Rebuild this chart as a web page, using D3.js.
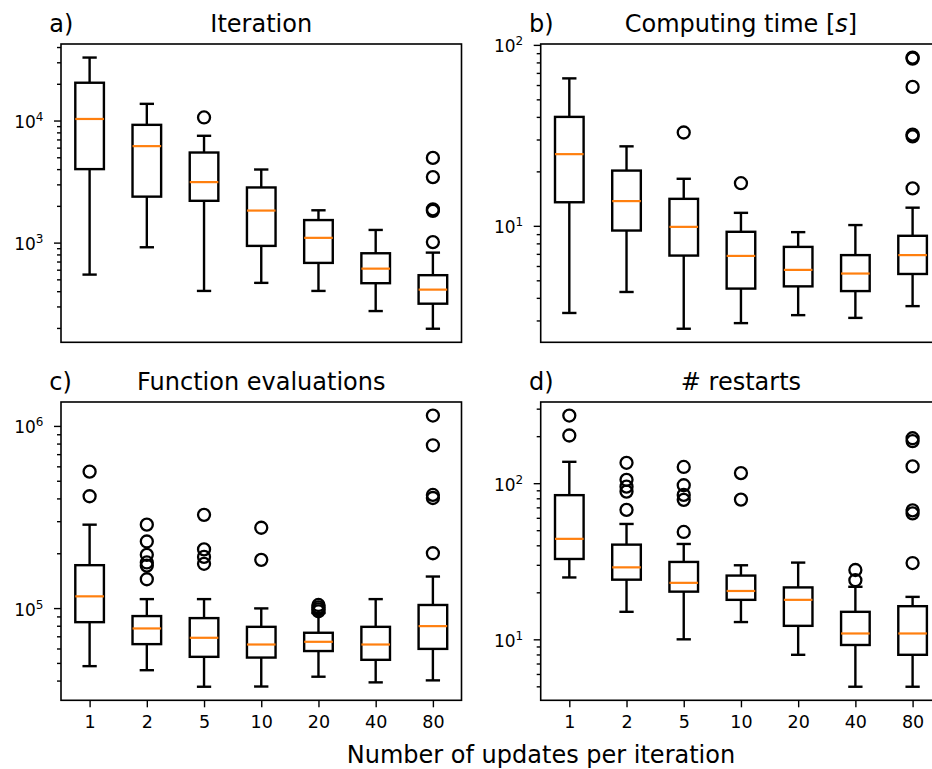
<!DOCTYPE html>
<html lang="en">
<head>
    <meta charset="UTF-8">
    <title>Box plots</title>
    <script src="https://d3js.org/d3.v7.min.js"></script>
    <style>
        body { margin: 0; background: #fff; }
        text { font-family: "DejaVu Sans", sans-serif; fill: #000; }
        .box, .whisker, .cap { fill: none; stroke: #000; stroke-width: 2.4; }
        .median { stroke: #ff7f0e; stroke-width: 2.2; }
        .flier { fill: none; stroke: #000; stroke-width: 2.3; }
        .tick line { stroke: #000; stroke-width: 1.4; }
    </style>
</head>
<body>
    <svg width="932" height="769"></svg>
    <script>
        // categories on the x axis
        const categories = ["1", "2", "5", "10", "20", "40", "80"];

        // [whisker low, q1, median, q3, whisker high] per category
        const iterBoxes = [
            [547, 4000, 10300, 20400, 32800],
            [916, 2380, 6170, 9220, 13700],
            [402, 2200, 3130, 5470, 7500],
            [468, 940, 1830, 2830, 3970],
            [402, 682, 1094, 1530, 1840],
            [275, 465, 612, 818, 1270],
            [197, 316, 412, 541, 828]
        ];
        const iterFliers = [[], [], [10600], [], [], [], [4940, 3440, 1870, 1820, 1010]];

        const timeBoxes = [
            [3.30, 13.5, 24.9, 40, 65.3],
            [4.31, 9.42, 13.7, 20.2, 27.5],
            [2.70, 6.85, 9.87, 14.1, 18.2],
            [2.90, 4.50, 6.82, 9.27, 11.8],
            [3.21, 4.63, 5.71, 7.65, 9.23],
            [3.10, 4.36, 5.45, 6.89, 10.1],
            [3.60, 5.42, 6.89, 8.81, 12.6]
        ];
        const timeFliers = [[], [], [32.8], [17.2], [], [], [85.1, 84, 58.6, 31.9, 31.2, 16.1]];

        const fevalBoxes = [
            [48000, 83700, 116000, 172000, 287000],
            [45600, 63400, 77300, 90400, 112000],
            [37000, 54000, 68700, 88100, 112000],
            [37100, 53500, 63100, 78900, 99600],
            [42000, 58100, 65300, 73200, 94000],
            [39100, 52000, 63100, 78900, 112000],
            [40100, 59700, 79600, 104000, 149000]
        ];
        const fevalFliers = [
            [561000, 411000],
            [287000, 232000, 196000, 178000, 171000, 144000],
            [325000, 210000, 191000, 175000],
            [276000, 184000],
            [104000, 101000, 98500, 96000],
            [],
            [1140000, 783000, 418000, 402000, 200000]
        ];

        const restartBoxes = [
            [24.9, 32.7, 44, 83.8, 137],
            [15, 24.1, 28.9, 40.4, 54.8],
            [10, 20.2, 23, 31.3, 40.8],
            [12.9, 17.9, 20.4, 25.6, 29.8],
            [7.96, 12.2, 17.9, 21.5, 31],
            [4.97, 9.2, 10.9, 15, 21.7],
            [4.97, 7.96, 10.9, 16.3, 18.7]
        ];
        const restartFliers = [[271, 202], [135, 105, 95, 88.3, 67.4], [127, 97, 84.1, 78.2, 48.7],
            [116, 78.5], [], [27.8, 23.9], [194, 186, 128, 67, 64, 30.8]];

        const panels = [
            { tag: "a)", title: "Iteration", boxes: iterBoxes, fliers: iterFliers, left: 61, top: 44, xlabels: false },
            { tag: "b)", title: "Computing time [s]", boxes: timeBoxes, fliers: timeFliers, left: 540.7, top: 44, xlabels: false },
            { tag: "c)", title: "Function evaluations", boxes: fevalBoxes, fliers: fevalFliers, left: 61, top: 402, xlabels: true },
            { tag: "d)", title: "# restarts", boxes: restartBoxes, fliers: restartFliers, left: 540.7, top: 402, xlabels: true }
        ];

        const svg = d3.select("svg"),
              pw = 400.5, ph = 298.3;

        svg.append("rect").attr("width", 932).attr("height", 769).attr("fill", "#fff");

        panels.forEach(function(p) {
            const g = svg.append("g").attr("transform", "translate(" + p.left + "," + p.top + ")");

            const x = d3.scalePoint().domain(categories).range([0, pw]).padding(0.5);
            const step = x.step();

            // log domain with 5% margin like matplotlib autoscale
            const all = d3.merge(p.boxes.concat(p.fliers));
            const lo = Math.log10(d3.min(all)), hi = Math.log10(d3.max(all)), m = (hi - lo) * 0.05;
            const y = d3.scaleLog().domain([Math.pow(10, lo - m), Math.pow(10, hi + m)]).range([ph, 0]);

            // major + minor ticks
            const majors = [], minors = [];
            for (let e = Math.floor(lo - m); e <= Math.ceil(hi + m); e++) {
                for (let k = 1; k < 10; k++) {
                    const v = k * Math.pow(10, e);
                    if (v < y.domain()[0] || v > y.domain()[1]) continue;
                    (k === 1 ? majors : minors).push(v);
                }
            }
            const axMinor = g.append("g").call(d3.axisLeft(y).tickValues(minors).tickSize(4).tickFormat(""));
            axMinor.select(".domain").remove();
            const axMajor = g.append("g").call(d3.axisLeft(y).tickValues(majors).tickSize(7).tickFormat(""));
            axMajor.select(".domain").remove();

            majors.forEach(function(v) {
                const t = g.append("text")
                    .attr("x", -17.5)
                    .attr("y", y(v) + 7.5)
                    .attr("text-anchor", "end")
                    .style("font-size", "17px");
                t.append("tspan").text("10");
                t.append("tspan").attr("dy", -7).style("font-size", "12px").text(Math.round(Math.log10(v)));
            });

            if (p.xlabels) {
                const ax = g.append("g").attr("transform", "translate(0," + ph + ")")
                    .call(d3.axisBottom(x).tickSize(7).tickPadding(8));
                ax.select(".domain").remove();
                ax.selectAll("text").style("font-size", "17.5px").style("font-family", "DejaVu Sans");
            }

            const boxes = g.selectAll(".bp").data(p.boxes).enter().append("g")
                .attr("transform", function(d, i) { return "translate(" + x(categories[i]) + ",0)"; });

            const bw = step * 0.5, cw = step * 0.25;
            boxes.append("line").attr("class", "whisker")
                .attr("y1", function(d) { return y(d[0]); }).attr("y2", function(d) { return y(d[1]); });
            boxes.append("line").attr("class", "whisker")
                .attr("y1", function(d) { return y(d[3]); }).attr("y2", function(d) { return y(d[4]); });
            boxes.append("line").attr("class", "cap")
                .attr("x1", -cw / 2).attr("x2", cw / 2)
                .attr("y1", function(d) { return y(d[0]); }).attr("y2", function(d) { return y(d[0]); });
            boxes.append("line").attr("class", "cap")
                .attr("x1", -cw / 2).attr("x2", cw / 2)
                .attr("y1", function(d) { return y(d[4]); }).attr("y2", function(d) { return y(d[4]); });
            boxes.append("rect").attr("class", "box")
                .attr("x", -bw / 2).attr("width", bw)
                .attr("y", function(d) { return y(d[3]); })
                .attr("height", function(d) { return y(d[1]) - y(d[3]); });
            boxes.append("line").attr("class", "median")
                .attr("x1", -bw / 2).attr("x2", bw / 2)
                .attr("y1", function(d) { return y(d[2]); }).attr("y2", function(d) { return y(d[2]); });

            p.fliers.forEach(function(fs, i) {
                g.selectAll(null).data(fs).enter().append("circle")
                    .attr("class", "flier")
                    .attr("cx", x(categories[i]))
                    .attr("cy", function(d) { return y(d); })
                    .attr("r", 6);
            });

            // spines
            g.append("rect").attr("width", pw).attr("height", ph)
                .attr("fill", "none").attr("stroke", "#000").attr("stroke-width", 1.6);

            const title = g.append("text").attr("x", pw / 2).attr("y", -11.7)
                .attr("text-anchor", "middle").style("font-size", "24px");
            if (p.title === "Computing time [s]") {
                title.append("tspan").text("Computing time [");
                title.append("tspan").style("font-style", "italic").text("s");
                title.append("tspan").text("]");
            } else {
                title.text(p.title);
            }
            g.append("text").attr("x", -11.7).attr("y", -11.7)
                .style("font-size", "24px").text(p.tag);
        });

        svg.append("text").attr("x", 541).attr("y", 763)
            .attr("text-anchor", "middle").style("font-size", "24px")
            .text("Number of updates per iteration");
    </script>
</body>
</html>
